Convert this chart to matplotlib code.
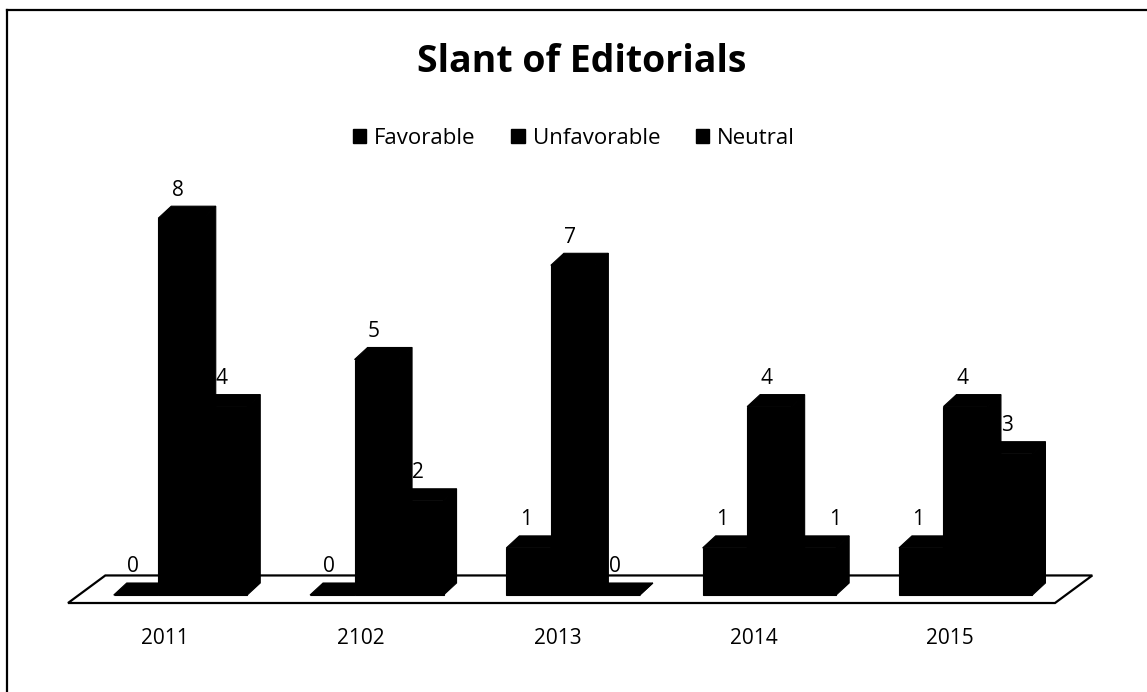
import matplotlib
matplotlib.use("Agg")
import matplotlib.pyplot as plt
from matplotlib.patches import Polygon, Patch
from matplotlib.lines import Line2D

# Editorial slant counts per year
categories = ["2011", "2102", "2013", "2014", "2015"]
series_names = ["Favorable", "Unfavorable", "Neutral"]
favorable = [0, 0, 1, 1, 1]
unfavorable = [8, 5, 7, 4, 4]
neutral = [4, 2, 0, 1, 3]
series_values = [favorable, unfavorable, neutral]

plt.rcParams["font.family"] = ["Open Sans", "DejaVu Sans"]

W, H, DPI = 1147, 692, 100
fig = plt.figure(figsize=(W / DPI, H / DPI), dpi=DPI)
fig.patch.set_facecolor("white")

# one axes covering the figure; x in category units, y in value units
group_px = 196.3      # pixels per category
unit_px = 47.1        # pixels per value unit
x0_px = 180.5         # centre of first category
base_px = 595         # pixel row of the value baseline
ax = fig.add_axes([0, 0, 1, 1])
ax.set_xlim(-x0_px / group_px, (W - x0_px) / group_px)
ax.set_ylim((base_px - H) / unit_px, base_px / unit_px)
ax.axis("off")

bar_w = 44.5 / group_px
depth_x = 13 / group_px
depth_y = 12 / unit_px
n = len(categories)

# horizontal nudges (pixels) for data labels that sit off-centre: (series, category)
label_nudge_px = {(2, 3): 24}

# floor of the 3-D plot
floor_front = -0.17
floor_back = 0.415
floor_left = -0.573
floor_right = (n - 1) + 0.455
floor_shift = 0.19
floor = Polygon(
    [(floor_left, floor_front), (floor_right, floor_front),
     (floor_right + floor_shift, floor_back), (floor_left + floor_shift, floor_back)],
    closed=True, fc="white", ec="black", lw=1.6, zorder=1)
ax.add_patch(floor)

# 3-D columns: front face, top face and right side
for j, vals in enumerate(series_values):
    for i, v in enumerate(vals):
        xl = i + (j - 1.5) * bar_w
        xr = xl + bar_w
        faces = [
            [(xl, 0), (xr, 0), (xr, v), (xl, v)],
            [(xl, v), (xr, v), (xr + depth_x, v + depth_y), (xl + depth_x, v + depth_y)],
            [(xr, 0), (xr + depth_x, depth_y), (xr + depth_x, v + depth_y), (xr, v)],
        ]
        for f in faces:
            ax.add_patch(Polygon(f, closed=True, fc="black", ec="black", lw=0.8, zorder=2))
        nudge = label_nudge_px.get((j, i), 0)
        ax.text(xl + bar_w / 2 + (nudge - 3) / group_px, v + depth_y + 16 / unit_px, str(v),
                ha="center", va="center", fontsize=15, color="black", zorder=3)

# category labels
for i, c in enumerate(categories):
    ax.text(i - 15.5 / group_px, (base_px - 638) / unit_px, c,
            ha="center", va="center", fontsize=15, color="black")

# chart frame (top and left edges)
fig.add_artist(Line2D([7 / W, 7 / W], [0, 1 - 10 / H], transform=fig.transFigure,
                      color="black", lw=1.6))
fig.add_artist(Line2D([7 / W, 1], [1 - 10 / H, 1 - 10 / H], transform=fig.transFigure,
                      color="black", lw=1.6))

fig.text(582 / W, 1 - 62 / H, "Slant of Editorials", ha="center", va="center",
         fontsize=27, fontweight="bold", color="black")

handles = [Patch(fc="black", ec="black", label=s) for s in series_names]
fig.legend(handles=handles, loc="center", bbox_to_anchor=(574 / W, 1 - 138 / H),
           ncol=3, frameon=False, fontsize=16, handlelength=0.6, handleheight=0.6,
           handletextpad=0.36, columnspacing=1.6)

fig.savefig("out.png", dpi=DPI, facecolor="white")
